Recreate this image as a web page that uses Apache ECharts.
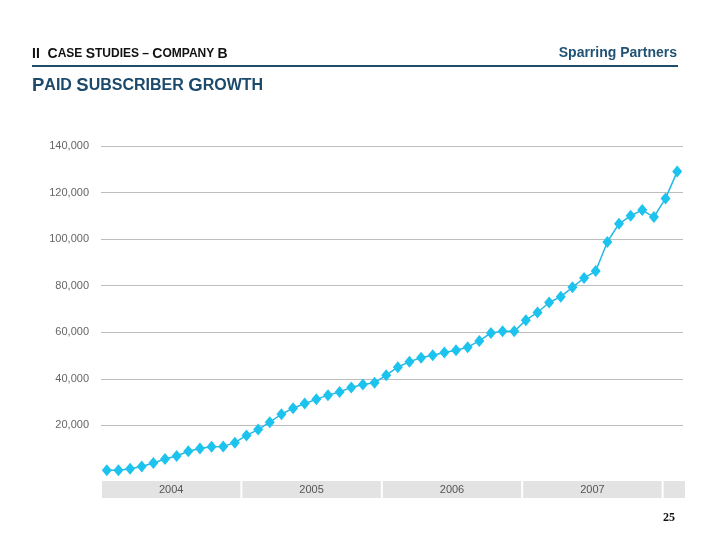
<!DOCTYPE html>
<html>
<head>
<meta charset="utf-8">
<script src="https://cdn.jsdelivr.net/npm/echarts@6/dist/echarts.min.js"></script>
<style>
  html, body { margin: 0; padding: 0; background: #fff; }
  #chart { width: 720px; height: 540px; }
</style>
</head>
<body>
<div id="chart"></div>
<script>
// monthly paid subscribers, Jan 2004 - Feb 2008
const months = [];
['04', '05', '06', '07', '08'].forEach(function (yy) {
  for (let m = 1; m <= 12; m++) months.push(m + '/' + yy);
});
const monthLabels = months.slice(0, 50);

const subscribers = [
  700, 800, 1400, 2400, 3900, 5600, 6900, 8900, 10100, 10800, 11000, 12600,
  15700, 18200, 21400, 24800, 27400, 29400, 31200, 33000, 34400, 36300, 37600, 38300,
  41600, 45000, 47400, 49100, 50100, 51300, 52300, 53600, 56300, 59700, 60400, 60400,
  65200, 68500, 72800, 75300, 79300, 83300, 86300, 98800, 106600, 110000, 112500, 109500,
  117500, 129000
];

const years = ['2004', '2005', '2006', '2007', '2008'];
const monthsInYear = [12, 12, 12, 12, 2];

const yTicks = [0, 20000, 40000, 60000, 80000, 100000, 120000, 140000];

const chart = echarts.init(document.getElementById('chart'));

// one stacked horizontal bar per year makes the grey year strip
const yearSeries = years.map(function (y, i) {
  return {
    type: 'bar',
    name: y,
    xAxisIndex: 1,
    yAxisIndex: 1,
    stack: 'years',
    barWidth: 19,
    silent: true,
    data: [monthsInYear[i]],
    itemStyle: { color: '#e3e3e3', borderColor: '#fff', borderWidth: 1 },
    label: {
      show: monthsInYear[i] >= 12,
      position: 'inside',
      formatter: y,
      color: '#555',
      fontFamily: 'Liberation Sans',
      fontSize: 11
    }
  };
});

chart.setOption({
  animation: false,
  textStyle: { fontFamily: 'Liberation Sans' },
  grid: [
    { left: 101, right: 37, top: 146, bottom: 68 },
    { left: 101, right: 34, top: 480, height: 19 }
  ],
  xAxis: [
    {
      gridIndex: 0,
      type: 'category',
      data: monthLabels,
      boundaryGap: true,
      axisLine: { show: false },
      axisTick: { show: false },
      axisLabel: { show: false }
    },
    {
      gridIndex: 1,
      type: 'value',
      min: 0,
      max: 50,
      show: false
    }
  ],
  yAxis: [
    {
      gridIndex: 0,
      type: 'value',
      min: yTicks[0],
      max: yTicks[yTicks.length - 1],
      interval: 20000,
      axisLine: { show: false },
      axisTick: { show: false },
      axisLabel: {
        margin: 12,
        color: '#666',
        fontSize: 11,
        formatter: function (v) {
          return v === 0 ? '' : v.toLocaleString('en-US');
        }
      },
      splitLine: {
        lineStyle: {
          width: 1,
          color: yTicks.map(function (t) { return t === 0 ? 'rgba(0,0,0,0)' : '#bdbdbd'; })
        }
      }
    },
    {
      gridIndex: 1,
      type: 'category',
      data: ['years'],
      show: false
    }
  ],
  series: [
    {
      type: 'line',
      name: 'Paid subscribers',
      data: subscribers,
      symbol: 'diamond',
      symbolSize: [10, 12],
      showSymbol: true,
      showAllSymbol: true,
      lineStyle: { color: '#25b9e0', width: 1.5 },
      itemStyle: { color: '#1cc3ee' }
    }
  ].concat(yearSeries),
  graphic: [
    {
      type: 'text',
      left: 32,
      top: 47,
      style: {
        text: '{b|II  C}{s|ASE }{b|S}{s|TUDIES – }{b|C}{s|OMPANY }{b|B}',
        rich: {
          b: { fontFamily: 'Liberation Sans', fontWeight: 'bold', fontSize: 14, fill: '#111' },
          s: { fontFamily: 'Liberation Sans', fontWeight: 'bold', fontSize: 12, fill: '#111' }
        }
      }
    },
    {
      type: 'text',
      right: 43,
      top: 46,
      style: {
        text: 'Sparring Partners',
        font: 'bold 14px Liberation Sans',
        fill: '#1f5275'
      }
    },
    {
      type: 'rect',
      shape: { x: 32, y: 65, width: 646, height: 2 },
      style: { fill: '#1f4d68' }
    },
    {
      type: 'text',
      left: 32,
      top: 76,
      style: {
        text: '{b|P}{s|AID }{b|S}{s|UBSCRIBER }{b|G}{s|ROWTH}',
        rich: {
          b: { fontFamily: 'Liberation Sans', fontWeight: 'bold', fontSize: 18.5, fill: '#1c4a6c' },
          s: { fontFamily: 'Liberation Sans', fontWeight: 'bold', fontSize: 16, fill: '#1c4a6c' }
        }
      }
    },
    {
      type: 'text',
      left: 663,
      top: 512,
      style: {
        text: '25',
        font: 'bold 12px Liberation Serif',
        fill: '#111'
      }
    }
  ]
});
</script>
</body>
</html>
